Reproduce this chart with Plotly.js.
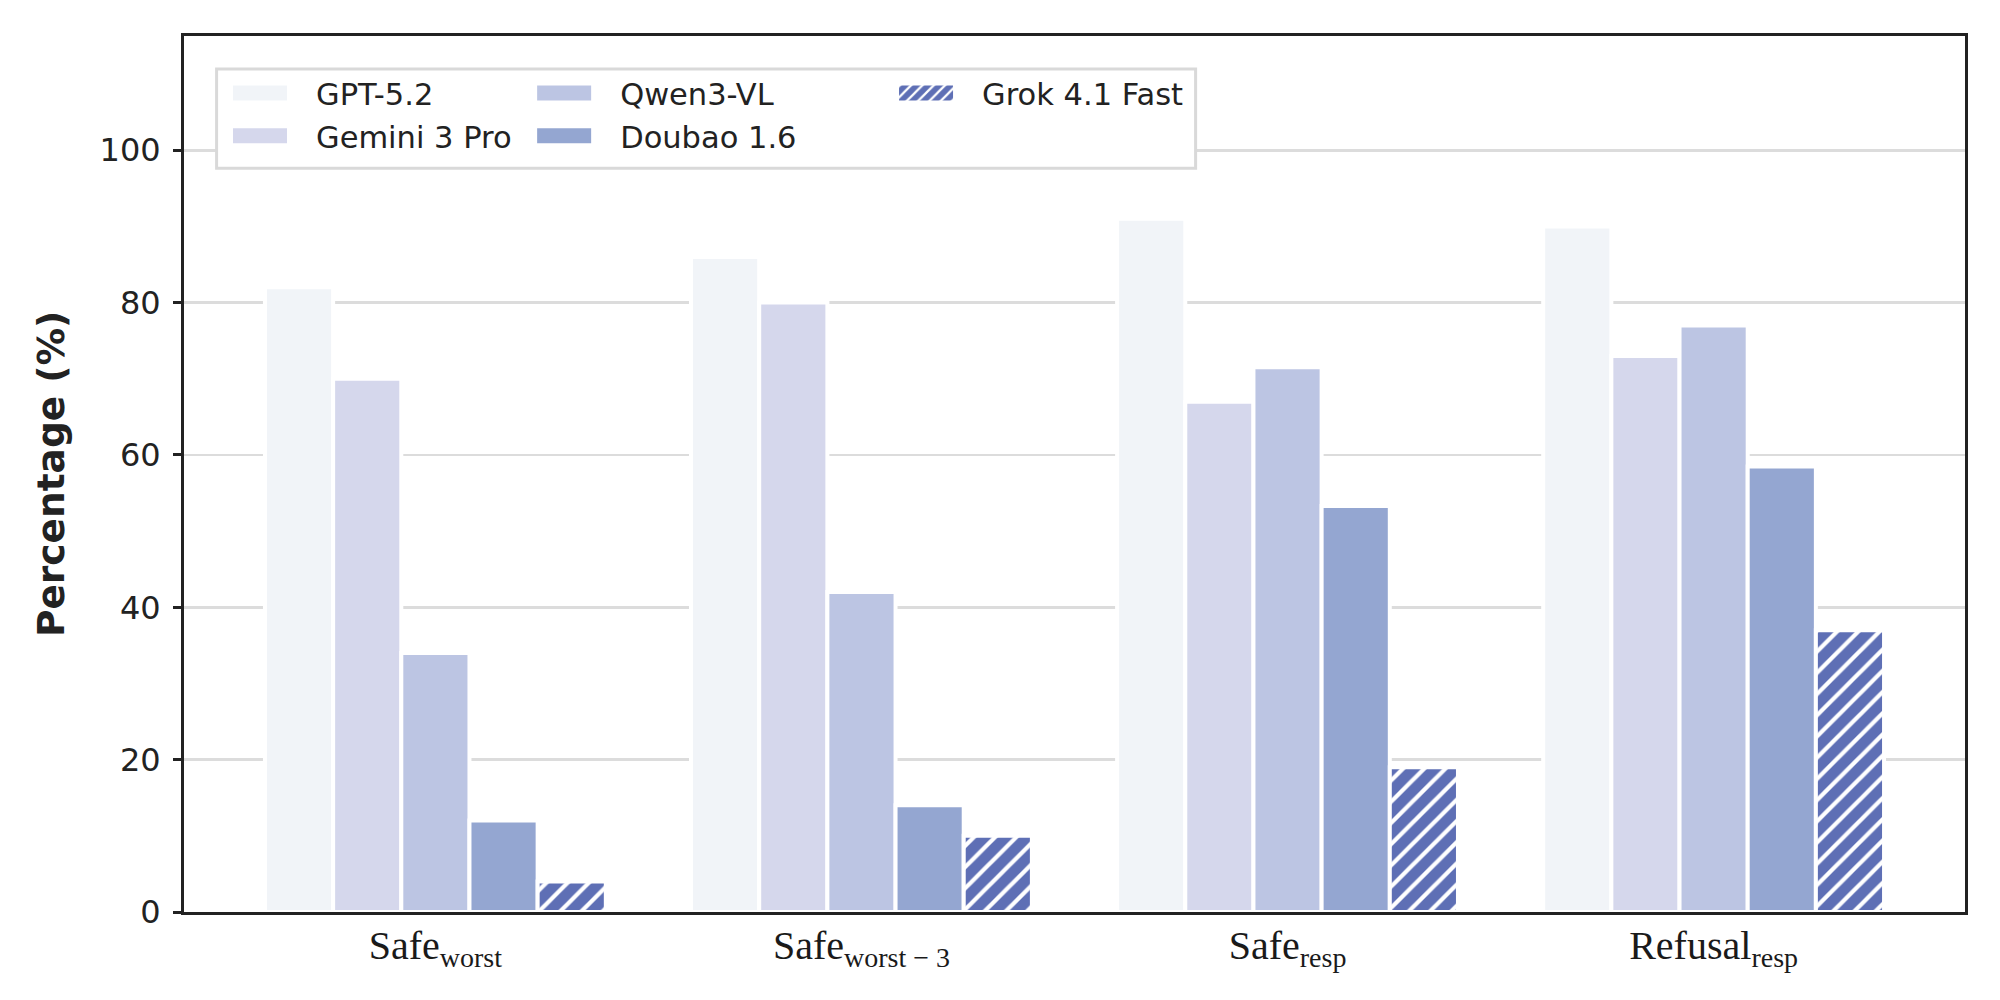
<!DOCTYPE html>
<html><head><meta charset="utf-8">
<script src="https://cdn.plot.ly/plotly-3.0.1.min.js"></script>
<style>html,body{margin:0;padding:0;background:#fff}</style>
</head><body><div id="chart" style="width:2000px;height:1000px"></div>
<script>
// ---- data ----
const categories = ['Safe_worst', 'Safe_worst-3', 'Safe_resp', 'Refusal_resp'];
const categoryLabels = ['Safe<sub>worst</sub>', 'Safe<sub>worst − 3</sub>', 'Safe<sub>resp</sub>', 'Refusal<sub>resp</sub>'];
const modelNames = ['GPT-5.2', 'Gemini 3 Pro', 'Qwen3-VL', 'Doubao 1.6', 'Grok 4.1 Fast'];
const gpt52 = [82, 86, 91, 90];
const gemini3Pro = [70, 80, 67, 73];
const qwen3VL = [34, 42, 71.5, 77];
const doubao16 = [12, 14, 53.3, 58.5];
const grok41Fast = [4, 10, 19, 37];
const yTickVals = [0, 20, 40, 60, 80, 100];

// ---- styles ----
const seriesValues = [gpt52, gemini3Pro, qwen3VL, doubao16, grok41Fast];
const seriesColors = ['#f1f4f8', '#d5d7ec', '#bcc5e3', '#94a6d1', '#5e6fb5'];
const seriesLegend = ['legend', 'legend', 'legend2', 'legend2', 'legend3'];

const traces = modelNames.map((name, i) => {
  const marker = {color: seriesColors[i], line: {color: '#ffffff', width: 4}};
  if (i === 4) {
    marker.pattern = {shape: '/', fillmode: 'overlay', fgcolor: '#ffffff', fgopacity: 1, size: 15, solidity: 0.28};
  }
  return {
    type: 'bar', name: name, x: categories, y: seriesValues[i],
    marker: marker, legend: seriesLegend[i], legendgroup: 'g' + i,
    hoverinfo: 'skip'
  };
});

const legendFont = {family: 'DejaVu Sans', size: 30.5, color: '#222222'};
function legendAt(x) {
  return {x: x, xanchor: 'left', y: 0.965, yanchor: 'top', bgcolor: 'rgba(0,0,0,0)',
          borderwidth: 0, font: legendFont, itemwidth: 102, tracegroupgap: 8,
          orientation: 'v', traceorder: 'normal'};
}

const layout = {
  width: 2000, height: 1000,
  margin: {l: 184, r: 35, t: 36, b: 88},
  paper_bgcolor: '#ffffff', plot_bgcolor: '#ffffff',
  barmode: 'group', bargap: 0.2, bargroupgap: 0,
  showlegend: true,
  legend: legendAt(0.01123),
  legend2: legendAt(0.182),
  legend3: legendAt(0.3852),
  xaxis: {
    type: 'category', range: [-0.59, 3.59],
    tickvals: categories, ticktext: categoryLabels,
    ticks: '', ticklen: 0, ticklabelstandoff: -4,
    tickfont: {family: 'Liberation Serif', size: 40, color: '#1a1a1a'},
    showline: true, linecolor: '#222222', linewidth: 3, mirror: true,
    showgrid: false, zeroline: false
  },
  yaxis: {
    range: [0, 115], tickvals: yTickVals,
    ticks: 'outside', ticklen: 8, tickwidth: 3, tickcolor: '#222222',
    ticklabelstandoff: 6,
    tickfont: {family: 'DejaVu Sans', size: 32, color: '#222222'},
    showline: true, linecolor: '#222222', linewidth: 3, mirror: true,
    showgrid: true, gridcolor: '#dcdcdc', gridwidth: 2.5, zeroline: false,
    automargin: false,
    title: {text: 'Percentage (%)', standoff: 24,
            font: {family: 'DejaVu Sans', size: 37.5, weight: 'bold', color: '#222222'}}
  },
  shapes: [{
    type: 'rect', xref: 'paper', yref: 'paper',
    x0: 0.0183, x1: 0.5680, y0: 0.8490, y1: 0.9623,
    fillcolor: '#ffffff', line: {color: '#d9d9d9', width: 3}, layer: 'above'
  }]
};

Plotly.newPlot('chart', traces, layout, {displayModeBar: false, staticPlot: true}).then(() => {
  document.querySelectorAll('.legendpoints path').forEach(p => {
    p.setAttribute('d', 'M29,9.5H-29V-9.5H29Z');
  });
});
</script></body></html>
